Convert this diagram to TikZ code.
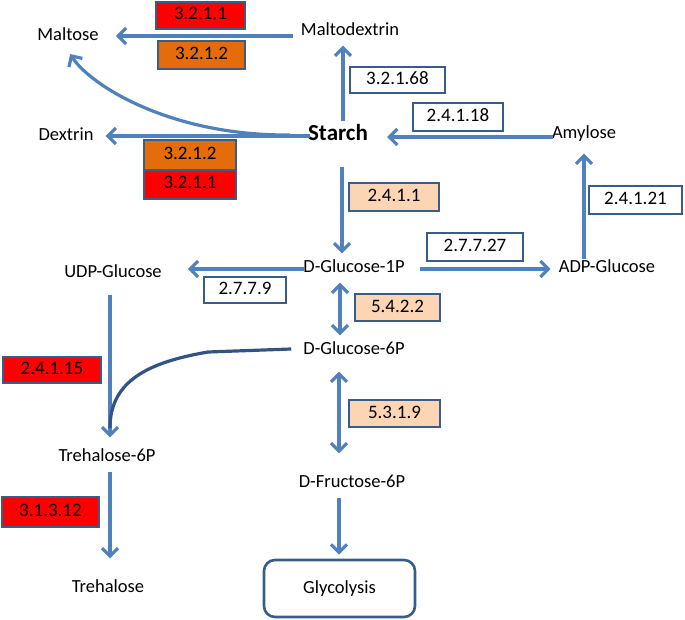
\documentclass[tikz,border=0pt]{standalone}
\usepackage{fontspec}
\setmainfont{Carlito}
\usepackage{tikz}
\usetikzlibrary{arrows.meta}
\usetikzlibrary{calc}

\definecolor{flowblue}{RGB}{79,129,189}
\definecolor{edgeblue}{RGB}{56,93,138}
\definecolor{joinblue}{RGB}{50,84,132}
\definecolor{ecred}{RGB}{255,0,0}
\definecolor{ecorange}{RGB}{228,108,10}
\definecolor{ecpeach}{RGB}{252,213,181}

\begin{document}
\begin{tikzpicture}[x=1pt,y=-1pt,
    met/.style={inner xsep=8pt,inner ysep=6pt,text height=13pt,text depth=4pt,
      font=\fontsize{18.5}{22}\selectfont},
    ec/.style={draw=edgeblue,line width=1.7pt,inner sep=0pt,minimum height=27pt,
      text height=13pt,text depth=4pt,font=\fontsize{19}{22}\selectfont},
    flow/.style={draw=flowblue,line width=3.2pt,
      -{Straight Barb[length=8pt,width=16pt]}},
    both/.style={flow,{Straight Barb[length=8pt,width=16pt]}-{Straight Barb[length=8pt,width=16pt]}}]
      \useasboundingbox (0,0) rectangle (685,620);

      % metabolites
      \node[met] (maltose) at (68,36) {Maltose};
      \node[met] (maltodextrin) at (350,31) {Maltodextrin};
      \node[met,font=\bfseries\fontsize{23}{26}\selectfont] (starch) at (338,136) {Starch};
      \node[met] (dextrin) at (66,136) {Dextrin};
      \node[met] (amylose) at (584,134) {Amylose};
      \node[met] (g1p) at (354,268) {D-Glucose-1P};
      \node[met] (udpg) at (113,273) {UDP-Glucose};
      \node[met] (adpg) at (607,268) {ADP-Glucose};
      \node[met] (g6p) at (354,350) {D-Glucose-6P};
      \node[met] (t6p) at (107,457) {Trehalose-6P};
      \node[met] (f6p) at (352,483) {D-Fructose-6P};
      \node[met] (trehalose) at (108,588) {Trehalose};
      \node[met,draw=edgeblue,line width=2.6pt,rounded corners=11pt,
        minimum width=151pt,minimum height=57pt] (glycolysis) at (339.5,588.5) {Glycolysis};

      % enzymes
      \node[ec,fill=ecred,minimum width=89pt] (ec3211a) at (200.5,15.5) {3.2.1.1};
      \node[ec,fill=ecorange,minimum width=87pt,minimum height=28pt] (ec3212a) at (201.5,55) {3.2.1.2};
      \node[ec,fill=white,minimum width=95pt,minimum height=26pt] (ec32168) at (397.5,80) {3.2.1.68};
      \node[ec,fill=white,minimum width=90pt,minimum height=28pt] (ec24118) at (458,117) {2.4.1.18};
      \node[ec,fill=ecorange,minimum width=92pt,minimum height=30pt] (ec3212b) at (190,155) {3.2.1.2};
      \node[ec,fill=ecred,minimum width=92pt,minimum height=29pt] (ec3211b) at (190,184.5) {3.2.1.1};
      \node[ec,fill=ecpeach,minimum width=90pt,minimum height=28pt] (ec2411) at (394,197) {2.4.1.1};
      \node[ec,fill=white,minimum width=93pt,minimum height=28pt] (ec24121) at (635.5,200) {2.4.1.21};
      \node[ec,fill=white,minimum width=96pt,minimum height=28pt] (ec27727) at (475,247) {2.7.7.27};
      \node[ec,fill=white,minimum width=82pt,minimum height=26pt] (ec2779) at (245,290) {2.7.7.9};
      \node[ec,fill=ecpeach,minimum width=85pt] (ec5422) at (397.5,307.5) {5.4.2.2};
      \node[ec,fill=ecred,minimum width=98pt,minimum height=26pt] (ec24115) at (52,370) {2.4.1.15};
      \node[ec,fill=ecpeach,minimum width=91pt] (ec5319) at (394.5,413.5) {5.3.1.9};
      \node[ec,fill=ecred,minimum width=97pt,minimum height=30pt] (ec31312) at (50.5,512) {3.1.3.12};

      % reactions
      \draw[flow,shorten >=9pt] (maltodextrin.west |- maltose) -- (maltose.east);
      \draw[flow] ([xshift=5pt]starch.north) -- ([xshift=5pt]starch.north |- maltodextrin.south);
      \draw[flow,shorten <=-10pt,shorten >=4pt] (starch.west) -- (starch.west -| dextrin.east);
      \draw[flow,shorten >=4pt] ([xshift=-10pt,yshift=1pt]starch.west)
        .. controls (170,136) and (90,85) .. (maltose.south);
      \draw[flow,shorten <=-9pt,shorten >=11pt] ([yshift=-3pt]amylose.west) -- ([yshift=-3pt]amylose.west -| starch.east);
      \draw[flow,shorten <=16pt] ([xshift=4pt]starch.south) -- ([xshift=4pt]starch.south |- g1p.north);
      \draw[flow,shorten <=-6pt,shorten >=5pt] (amylose.south |- adpg.north) -- (amylose.south);
      \draw[flow,shorten <=7pt] ([yshift=-1pt]g1p.east) -- ([yshift=-1pt]g1p.east -| adpg.west);
      \draw[flow,shorten <=-9pt,shorten >=18pt] ([yshift=-1pt]g1p.west) -- ([yshift=-1pt]g1p.west -| udpg.east);
      \draw[both] ([xshift=-14pt]g1p.south) -- ([xshift=-14pt]g1p.south |- g6p.north);
      \draw[flow,shorten <=7pt,shorten >=5pt] ([xshift=-3pt]udpg.south) -- ([xshift=-3pt]udpg.south |- t6p.north);
      \coordinate (join) at (110,428);
      \draw[joinblue,line width=3.2pt] ([xshift=-4pt,yshift=1pt]g6p.west) -- (208,352)
        .. controls (150,362) and (110,380) .. (join);
      \draw[both,shorten <=7pt,shorten >=15pt] ([xshift=-15pt]g6p.south) -- ([xshift=-15pt]g6p.south |- f6p.north);
      \draw[flow,shorten >=4pt] ([xshift=-13pt]f6p.south) -- ([xshift=-13pt]f6p.south |- glycolysis.north);
      \draw[flow,shorten >=15pt] ([xshift=3pt]t6p.south) -- ([xshift=3pt]t6p.south |- trehalose.north);
    \end{tikzpicture}
\end{document}
